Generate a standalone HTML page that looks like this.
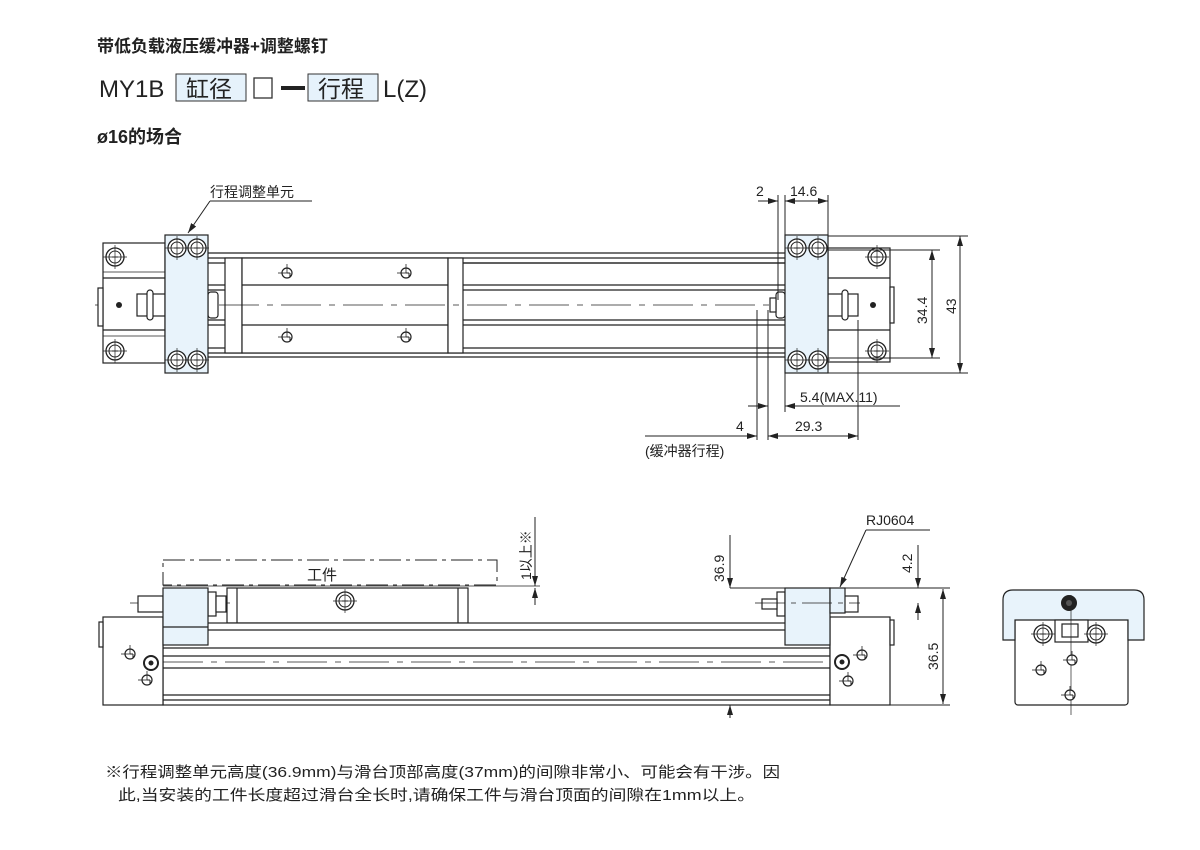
<!DOCTYPE html>
<html><head><meta charset="utf-8"><style>
html,body{margin:0;padding:0;background:#fff;}
svg{display:block;}
text{font-family:"Liberation Sans","Noto Sans CJK SC",sans-serif;fill:#222;}
</style></head><body>
<svg width="1200" height="850" viewBox="0 0 1200 850" xmlns="http://www.w3.org/2000/svg">
<defs>
<marker id="a" viewBox="0 0 10 6" refX="10" refY="3" markerWidth="10" markerHeight="6" orient="auto-start-reverse" markerUnits="userSpaceOnUse"><path d="M0,0L10,3L0,6z" fill="#222"/></marker>
<g id="bolt"><circle r="9" fill="#fff" stroke="#222" stroke-width="1.3"/><circle r="6" fill="none" stroke="#222" stroke-width="1"/><line x1="-3" y1="0" x2="3" y2="0" stroke="#222"/><line x1="0" y1="-12" x2="0" y2="12" stroke="#222" stroke-width=".7"/><line x1="-12" y1="0" x2="12" y2="0" stroke="#222" stroke-width=".7"/></g>
<g id="sm"><circle r="5" fill="#fff" stroke="#222" stroke-width="1.2"/><line x1="0" y1="-9" x2="0" y2="0" stroke="#222" stroke-width=".8"/><line x1="-9" y1="0" x2="0" y2="0" stroke="#222" stroke-width=".8"/><line x1="0" y1="0" x2="3" y2="0" stroke="#222"/><line x1="3" y1="0" x2="3" y2="4" stroke="#222"/></g>
</defs>

<!-- header -->
<text x="97" y="52" font-size="17" font-weight="bold">带低负载液压缓冲器+调整螺钉</text>
<text x="99" y="97" font-size="24">MY1B</text>
<rect x="176" y="74" width="70" height="27" fill="#e6f2fb" stroke="#333"/>
<text x="186" y="97" font-size="23">缸径</text>
<rect x="254" y="78" width="18" height="20" fill="#fff" stroke="#333" stroke-width="1.3"/>
<rect x="281" y="86" width="24" height="4" fill="#222"/>
<rect x="308" y="74" width="70" height="27" fill="#e6f2fb" stroke="#333"/>
<text x="318" y="97" font-size="23">行程</text>
<text x="383" y="97" font-size="24">L(Z)</text>
<text x="97" y="143" font-size="18" font-weight="bold">ø16的场合</text>

<g stroke="#222" fill="none" stroke-width="1.2">
<line x1="208" y1="253" x2="785" y2="253"/><line x1="208" y1="258" x2="785" y2="258"/>
<line x1="208" y1="263" x2="785" y2="263"/>
<line x1="208" y1="285" x2="785" y2="285"/><line x1="208" y1="290" x2="785" y2="290"/>
<line x1="208" y1="320" x2="785" y2="320"/><line x1="208" y1="325" x2="785" y2="325"/>
<line x1="208" y1="348" x2="785" y2="348"/><line x1="208" y1="353" x2="785" y2="353"/><line x1="208" y1="357" x2="785" y2="357"/>
<rect x="225" y="258" width="17" height="95" fill="#fff"/>
<rect x="242" y="258" width="206" height="95" fill="#fff"/>
<line x1="242" y1="285" x2="448" y2="285"/><line x1="242" y1="325" x2="448" y2="325"/>
<rect x="448" y="258" width="15" height="95" fill="#fff"/>
<line x1="463" y1="263" x2="785" y2="263"/>
<line x1="95" y1="305" x2="895" y2="305" stroke-width=".8" stroke-dasharray="40 8 6 8"/>
<rect x="103" y="243" width="62" height="120" fill="#fff"/>
<line x1="103" y1="278" x2="165" y2="278"/><line x1="103" y1="330" x2="165" y2="330"/>
<line x1="103" y1="272" x2="165" y2="272" stroke-width=".7"/><line x1="103" y1="336" x2="165" y2="336" stroke-width=".7"/>
<rect x="98" y="288" width="5" height="38" fill="#fff"/>
<rect x="137" y="294" width="28" height="22" fill="#fff"/>
<rect x="147" y="290" width="6" height="30" rx="3" fill="#fff"/>
<rect x="208" y="292" width="10" height="26" rx="3" fill="#fff"/>
<rect x="165" y="235" width="43" height="138" fill="#e8f3fb"/>
<rect x="828" y="248" width="62" height="114" fill="#fff"/>
<line x1="828" y1="278" x2="890" y2="278"/><line x1="828" y1="330" x2="890" y2="330"/>
<rect x="890" y="287" width="4" height="36" fill="#fff"/>
<rect x="828" y="294" width="30" height="22" fill="#fff"/>
<rect x="842" y="290" width="6" height="30" rx="3" fill="#fff"/>
<rect x="776" y="292" width="9" height="26" rx="3" fill="#fff"/>
<rect x="770" y="298" width="6" height="14" fill="#fff"/>
<rect x="785" y="235" width="43" height="138" fill="#e8f3fb"/>
</g>
<use href="#bolt" x="115" y="257"/><use href="#bolt" x="115" y="351"/>
<use href="#bolt" x="877" y="257"/><use href="#bolt" x="877" y="351"/>
<use href="#bolt" x="177" y="248"/><use href="#bolt" x="197" y="248"/><use href="#bolt" x="177" y="360"/><use href="#bolt" x="197" y="360"/>
<use href="#bolt" x="797" y="248"/><use href="#bolt" x="818" y="248"/><use href="#bolt" x="797" y="360"/><use href="#bolt" x="818" y="360"/>
<use href="#sm" x="287" y="273"/><use href="#sm" x="406" y="273"/><use href="#sm" x="287" y="337"/><use href="#sm" x="406" y="337"/>
<circle cx="119" cy="305" r="3" fill="#222"/><circle cx="873" cy="305" r="3" fill="#222"/>

<g stroke="#222" stroke-width="1" fill="none">
<line x1="312" y1="201" x2="210" y2="201"/>
<line x1="210" y1="201" x2="188" y2="233" marker-end="url(#a)"/>
<line x1="778" y1="195" x2="778" y2="300"/><line x1="785" y1="195" x2="785" y2="235"/><line x1="828" y1="195" x2="828" y2="235"/>
<line x1="758" y1="201" x2="778" y2="201" marker-end="url(#a)"/>
<line x1="785" y1="201" x2="828" y2="201" marker-start="url(#a)" marker-end="url(#a)"/>
<line x1="828" y1="236" x2="968" y2="236"/><line x1="828" y1="373" x2="968" y2="373"/>
<line x1="828" y1="250" x2="940" y2="250"/><line x1="828" y1="358" x2="940" y2="358"/>
<line x1="960" y1="236" x2="960" y2="373" marker-start="url(#a)" marker-end="url(#a)"/>
<line x1="932" y1="250" x2="932" y2="358" marker-start="url(#a)" marker-end="url(#a)"/>
<line x1="757" y1="310" x2="757" y2="440"/><line x1="768" y1="310" x2="768" y2="440"/>
<line x1="785" y1="373" x2="785" y2="412"/><line x1="858" y1="320" x2="858" y2="440"/>
<line x1="748" y1="406" x2="768" y2="406" marker-end="url(#a)"/>
<line x1="900" y1="406" x2="785" y2="406" marker-end="url(#a)"/>
<line x1="645" y1="436" x2="757" y2="436" marker-end="url(#a)"/>
<line x1="768" y1="436" x2="858" y2="436" marker-start="url(#a)" marker-end="url(#a)"/>
</g>
<text x="210" y="197" font-size="14">行程调整单元</text>
<text x="756" y="196" font-size="14">2</text>
<text x="790" y="196" font-size="14">14.6</text>
<text x="927" y="324" font-size="14" transform="rotate(-90 927 324)">34.4</text>
<text x="956" y="314" font-size="14" transform="rotate(-90 956 314)">43</text>
<text x="800" y="402" font-size="14">5.4(MAX.11)</text>
<text x="736" y="431" font-size="14">4</text>
<text x="795" y="431" font-size="14">29.3</text>
<text x="645" y="456" font-size="14">(缓冲器行程)</text>

<g stroke="#222" fill="none" stroke-width="1.2">
<rect x="163" y="560" width="334" height="25" stroke-dasharray="22 5 4 5" stroke-width="1"/>
<line x1="163" y1="586" x2="540" y2="586" stroke-width=".8"/>
<rect x="227" y="588" width="241" height="35" fill="#fff"/>
<line x1="237" y1="588" x2="237" y2="623"/><line x1="458" y1="588" x2="458" y2="623"/>
<rect x="163" y="623" width="667" height="82" fill="#fff"/>
<line x1="163" y1="630" x2="830" y2="630"/><line x1="163" y1="648" x2="830" y2="648"/>
<line x1="163" y1="656" x2="830" y2="656"/><line x1="163" y1="668" x2="830" y2="668"/>
<line x1="163" y1="695" x2="830" y2="695"/><line x1="163" y1="700" x2="830" y2="700"/>
<line x1="163" y1="662" x2="830" y2="662" stroke-width=".8" stroke-dasharray="40 8 6 8"/>
<line x1="130" y1="603" x2="230" y2="603" stroke-width=".8" stroke-dasharray="30 6 5 6"/>
<rect x="103" y="617" width="60" height="88" fill="#fff"/>
<rect x="99" y="622" width="4" height="25" fill="#fff"/>
<rect x="138" y="596" width="25" height="16" fill="#fff"/>
<rect x="208" y="592" width="8" height="24" fill="#fff"/>
<rect x="216" y="596" width="10" height="16" fill="#fff"/>
<rect x="163" y="588" width="45" height="57" fill="#e8f3fb"/>
<line x1="163" y1="627" x2="208" y2="627"/>
<rect x="830" y="617" width="60" height="88" fill="#fff"/>
<rect x="890" y="620" width="4" height="25" fill="#fff"/>
<rect x="828" y="596" width="30" height="16" fill="#fff"/>
<rect x="777" y="592" width="8" height="24" fill="#fff"/>
<rect x="762" y="599" width="15" height="10" fill="#fff"/>
<rect x="785" y="588" width="45" height="57" fill="#e8f3fb"/>
<rect x="830" y="588" width="15" height="25" fill="#e8f3fb"/>
<line x1="755" y1="603" x2="860" y2="603" stroke-width=".8" stroke-dasharray="30 6 5 6"/>
<rect x="1015" y="617" width="113" height="88" rx="3" fill="#fff"/>
<path d="M1003,600 Q1003,590 1013,590 L1134,590 Q1144,590 1144,600 L1144,640 L1128,640 L1128,620 L1015,620 L1015,640 L1003,640 Z" fill="#e8f3fb"/>
<rect x="1055" y="620" width="33" height="22" fill="#fff"/>
<rect x="1062" y="624" width="16" height="13" fill="#fff"/>
<line x1="1071" y1="595" x2="1071" y2="715" stroke-width=".7"/>
</g>
<circle cx="1069" cy="603" r="8" fill="#222"/><circle cx="1069" cy="603" r="3" fill="#555"/>
<use href="#bolt" x="1043" y="634"/><use href="#bolt" x="1096" y="634"/>
<use href="#sm" x="1041" y="670"/><use href="#sm" x="1072" y="660"/><use href="#sm" x="1070" y="695"/>
<use href="#bolt" x="345" y="601"/>
<use href="#sm" x="130" y="654"/><use href="#sm" x="147" y="680"/><use href="#sm" x="862" y="655"/><use href="#sm" x="848" y="681"/>
<circle cx="151" cy="663" r="7" fill="#fff" stroke="#222" stroke-width="2"/><circle cx="151" cy="663" r="2.5" fill="#222"/>
<circle cx="842" cy="662" r="7" fill="#fff" stroke="#222" stroke-width="2"/><circle cx="842" cy="662" r="2.5" fill="#222"/>
<text x="307" y="580" font-size="15">工件</text>

<g stroke="#222" stroke-width="1" fill="none">
<line x1="535" y1="517" x2="535" y2="586" marker-end="url(#a)"/>
<line x1="535" y1="605" x2="535" y2="588" marker-end="url(#a)"/>
<line x1="730" y1="535" x2="730" y2="588" marker-end="url(#a)"/>
<line x1="730" y1="718" x2="730" y2="705" marker-end="url(#a)"/>
<line x1="730" y1="588" x2="950" y2="588"/><line x1="830" y1="705" x2="950" y2="705"/>
<line x1="943" y1="589" x2="943" y2="704" marker-start="url(#a)" marker-end="url(#a)"/>
<line x1="918" y1="545" x2="918" y2="588" marker-end="url(#a)"/>
<line x1="918" y1="620" x2="918" y2="603" marker-end="url(#a)"/>
<line x1="930" y1="530" x2="866" y2="530"/>
<line x1="866" y1="530" x2="840" y2="587" marker-end="url(#a)"/>
</g>
<text x="531" y="580" font-size="14" transform="rotate(-90 531 580)">1以上※</text>
<text x="724" y="582" font-size="14" transform="rotate(-90 724 582)">36.9</text>
<text x="912" y="573" font-size="14" transform="rotate(-90 912 573)">4.2</text>
<text x="938" y="670" font-size="14" transform="rotate(-90 938 670)">36.5</text>
<text x="866" y="525" font-size="14">RJ0604</text>

<text x="105" y="777" font-size="15" textLength="675" lengthAdjust="spacingAndGlyphs">※行程调整单元高度(36.9mm)与滑台顶部高度(37mm)的间隙非常小、可能会有干涉。因</text>
<text x="118" y="800" font-size="15" textLength="637" lengthAdjust="spacingAndGlyphs">此,当安装的工件长度超过滑台全长时,请确保工件与滑台顶面的间隙在1mm以上。</text>
</svg>
</body></html>
